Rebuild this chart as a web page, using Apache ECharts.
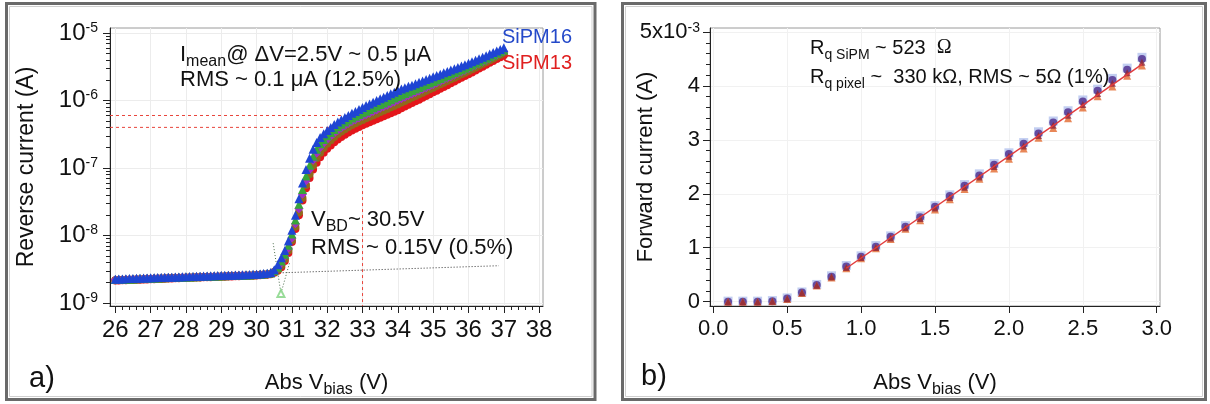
<!DOCTYPE html>
<html><head><meta charset="utf-8">
<script src="https://cdn.jsdelivr.net/npm/echarts@6/dist/echarts.min.js"></script>
<style>html,body{margin:0;padding:0;background:#fff}#c{width:1210px;height:404px}</style>
</head><body><div id="c"></div>
<script>
// ---------- Panel a: reverse I-V (currents in nA) ----------
const voltA = [
26.0,26.1,26.2,26.3,26.4,26.5,26.6,26.7,26.8,26.9,
27.0,27.1,27.2,27.3,27.4,27.5,27.6,27.7,27.8,27.9,
28.0,28.1,28.2,28.3,28.4,28.5,28.6,28.7,28.8,28.9,
29.0,29.1,29.2,29.3,29.4,29.5,29.6,29.7,29.8,29.9,
30.0,30.1,30.2,30.3,30.4,30.5,30.6,30.7,30.8,30.9,
31.0,31.1,31.2,31.3,31.4,31.5,31.6,31.7,31.8,31.9,
32.0,32.1,32.2,32.3,32.4,32.5,32.6,32.7,32.8,32.9,
33.0,33.1,33.2,33.3,33.4,33.5,33.6,33.7,33.8,33.9,
34.0,34.1,34.2,34.3,34.4,34.5,34.6,34.7,34.8,34.9,
35.0,35.1,35.2,35.3,35.4,35.5,35.6,35.7,35.8,35.9,
36.0,36.1,36.2,36.3,36.4,36.5,36.6,36.7,36.8,36.9,
37.0];
const sipm16 = [
2.26,2.27,2.28,2.29,2.30,2.31,2.32,2.33,2.34,2.35,
2.36,2.37,2.38,2.39,2.40,2.41,2.42,2.43,2.44,2.45,
2.46,2.47,2.48,2.49,2.50,2.51,2.52,2.53,2.54,2.55,
2.56,2.57,2.58,2.59,2.60,2.61,2.62,2.63,2.64,2.66,
2.68,2.70,2.73,2.77,2.83,3.1,3.7,4.7,6.0,8.3,
12,20,35,60,95,140,190,238,282,322,
360,400,440,480,520,560,602,645,690,738,
790,840,890,940,1000,1060,1120,1190,1260,1330,
1410,1480,1550,1620,1690,1770,1860,1940,2040,2130,
2240,2340,2450,2570,2690,2820,2950,3090,3240,3390,
3550,3740,3940,4160,4380,4620,4870,5130,5410,5710,
6030];
const sipmGreen = [
2.23,2.24,2.25,2.26,2.27,2.28,2.29,2.30,2.31,2.32,
2.33,2.34,2.35,2.36,2.37,2.38,2.39,2.40,2.41,2.42,
2.43,2.44,2.45,2.46,2.47,2.48,2.49,2.50,2.51,2.52,
2.53,2.54,2.55,2.56,2.57,2.58,2.59,2.60,2.61,2.63,
2.65,2.67,2.70,2.73,2.78,3.0,3.4,4.2,5.3,7.2,
10.5,17,29,48,76,110,150,190,228,264,
300,336,372,408,444,480,514,549,584,620,
658,696,736,778,823,870,920,973,1029,1088,
1151,1211,1273,1339,1408,1481,1557,1638,1722,1814,
1911,2010,2115,2225,2341,2463,2591,2725,2867,3016,
3175,3360,3557,3764,3984,4217,4463,4724,5000,5292,
5600];
const sipmPurple = [
2.21,2.22,2.23,2.24,2.25,2.26,2.27,2.28,2.29,2.30,
2.31,2.32,2.33,2.34,2.35,2.36,2.37,2.38,2.39,2.40,
2.41,2.42,2.43,2.44,2.45,2.46,2.47,2.48,2.49,2.50,
2.51,2.52,2.53,2.54,2.55,2.56,2.57,2.58,2.59,2.61,
2.63,2.65,2.67,2.70,2.75,2.95,3.25,3.9,4.9,6.5,
9.2,15,25,41,64,94,130,166,200,232,
264,296,328,360,392,424,456,488,520,551,
583,616,650,686,725,765,808,853,901,952,
1007,1062,1121,1182,1247,1316,1388,1465,1545,1630,
1719,1814,1915,2022,2134,2252,2377,2509,2648,2795,
2949,3128,3319,3521,3735,3962,4203,4458,4729,5017,
5321];
const sipmOlive = [
2.18,2.19,2.20,2.21,2.22,2.23,2.24,2.25,2.26,2.27,
2.28,2.29,2.30,2.31,2.32,2.33,2.34,2.35,2.36,2.37,
2.38,2.39,2.40,2.41,2.42,2.43,2.44,2.45,2.46,2.47,
2.48,2.49,2.50,2.51,2.52,2.53,2.54,2.55,2.56,2.58,
2.60,2.62,2.64,2.67,2.72,2.9,3.1,3.6,4.5,6.0,
8.5,13.5,22,36,56,81,110,140,168,198,
228,258,288,318,347,376,405,433,461,489,
516,544,574,606,639,674,712,751,792,836,
881,932,986,1043,1104,1168,1235,1307,1383,1463,
1549,1640,1736,1838,1945,2059,2180,2308,2443,2586,
2737,2910,3095,3291,3499,3720,3956,4206,4473,4756,
5058];
const sipm13 = [
2.15,2.16,2.17,2.18,2.19,2.20,2.21,2.22,2.23,2.24,
2.25,2.26,2.27,2.28,2.29,2.30,2.31,2.32,2.33,2.34,
2.35,2.36,2.37,2.38,2.39,2.40,2.41,2.42,2.43,2.44,
2.45,2.46,2.47,2.48,2.49,2.50,2.51,2.52,2.53,2.54,
2.56,2.58,2.60,2.63,2.68,2.8,3.0,3.4,4.2,5.5,
8.0,12.5,20,33,50,71,95,120,145,169,
193,216,240,264,288,312,335,359,383,406,
430,453,477,502,528,556,586,617,649,684,
720,765,812,862,916,973,1030,1100,1170,1240,
1320,1400,1490,1590,1690,1800,1910,2040,2170,2300,
2450,2610,2790,2970,3170,3390,3610,3860,4120,4390,
4700];
const xTicksA = [26,27,28,29,30,31,32,33,34,35,36,37,38];
const xMinorA = [26.2,26.4,26.6,26.8,27.2,27.4,27.6,27.8,28.2,28.4,28.6,28.8,29.2,29.4,29.6,29.8,
30.2,30.4,30.6,30.8,31.2,31.4,31.6,31.8,32.2,32.4,32.6,32.8,33.2,33.4,33.6,33.8,
34.2,34.4,34.6,34.8,35.2,35.4,35.6,35.8,36.2,36.4,36.6,36.8,37.2,37.4,37.6,37.8];
const yTicksA = [1e-9,1e-8,1e-7,1e-6,1e-5];
const yMinorA = [2e-9,3e-9,4e-9,5e-9,6e-9,7e-9,8e-9,9e-9,2e-8,3e-8,4e-8,5e-8,6e-8,7e-8,8e-8,9e-8,
2e-7,3e-7,4e-7,5e-7,6e-7,7e-7,8e-7,9e-7,2e-6,3e-6,4e-6,5e-6,6e-6,7e-6,8e-6,9e-6];
const xRangeA = [25.85, 38.11];
const yRangeA = [9.04e-10, 1.186e-5];
const guideLevelsA = [6e-7, 4e-7];   // mean +/- RMS markers
const guideVoltA = 33;
const guideTopA = 8e-7;
const plateauFitA = [[30.74, 2.81e-9], [36.86, 3.57e-9]];
const vbdFitA = [[30.47, 7.7e-9], [30.69, 1.39e-9], [30.93, 3.87e-9]];
const vbdPointA = [[30.69, 1.39e-9]];

// ---------- Panel b: forward I-V (currents in mA) ----------
const voltB = [0.1,0.2,0.3,0.4,0.5,0.6,0.7,0.8,0.9,1.0,1.1,1.2,1.3,1.4,1.5,1.6,1.7,1.8,1.9,2.0,2.1,2.2,2.3,2.4,2.5,2.6,2.7,2.8,2.9];
const fwdLight  = [0.01,0.01,0.01,0.02,0.07,0.18,0.32,0.48,0.67,0.85,1.04,1.22,1.41,1.59,1.78,1.98,2.17,2.37,2.56,2.76,2.95,3.15,3.35,3.54,3.74,3.94,4.14,4.33,4.53];
const fwdPurple = [0.00,0.00,0.00,0.01,0.06,0.17,0.31,0.46,0.65,0.835,1.02,1.205,1.39,1.565,1.76,1.96,2.15,2.34,2.54,2.74,2.93,3.12,3.32,3.51,3.71,3.91,4.11,4.30,4.50];
const fwdOrange = [0.00,0.00,0.00,0.01,0.05,0.16,0.30,0.45,0.62,0.805,0.99,1.16,1.35,1.51,1.71,1.90,2.09,2.28,2.47,2.65,2.84,3.04,3.22,3.40,3.60,3.81,3.99,4.19,4.38];
const fwdMaroon = [0.00,0.00,0.00,0.01,0.055,0.165,0.305,0.46,0.635,0.82,1.005,1.18,1.37,1.54,1.735,1.93,2.12,2.31,2.505,2.695,2.885,3.08,3.27,3.455,3.655,3.86,4.05,4.245,4.44];
const fitVoltB = [0.9, 2.9];
const fitCurrB = [0.62, 4.40];
const xTicksB = [0, 0.5, 1.0, 1.5, 2.0, 2.5, 3.0];
const yTicksB = [0, 1, 2, 3, 4, 5];
const yMinorB = [0.2,0.4,0.6,0.8,1.2,1.4,1.6,1.8,2.2,2.4,2.6,2.8,3.2,3.4,3.6,3.8,4.2,4.4,4.6,4.8];
const xRangeB = [-0.022, 3.022];
const yRangeB = [-0.08, 5.074];

// ---------- build ----------
const FONT = '"Liberation Sans", Arial, sans-serif';
const INK = '#111';
const pairs = (xs, ys, k) => xs.map((x, i) => [x, ys[i] * k]);
function supRich(fs) {
  return {
    b: {fontSize: fs, fontFamily: FONT, color: INK, lineHeight: fs, verticalAlign: 'bottom'},
    s: {fontSize: 14, fontFamily: FONT, color: INK, lineHeight: 14, verticalAlign: 'top', padding: [0, 0, 15, 0]}
  };
}
const nameRich = {sub: {fontSize: 16, fontFamily: FONT, color: INK, lineHeight: 16, verticalAlign: 'bottom', padding: [14, 0, 0, 0]}};

function mainX(grid, range, ticks, fmt, splitN, split, fs) {
  return {
    type: 'value', gridIndex: grid, min: range[0], max: range[1], position: 'bottom', splitNumber: splitN,
    axisLine: {show: true, onZero: false, lineStyle: {color: '#222', width: 1}},
    axisTick: {show: true, customValues: ticks, length: 7, lineStyle: {color: '#222'}},
    axisLabel: {customValues: ticks, fontSize: fs, fontFamily: FONT, color: INK, margin: 12, formatter: fmt},
    splitLine: {show: true, lineStyle: {color: split}},
    name: 'Abs V{sub|bias} (V)', nameLocation: 'middle', nameGap: 62, nameMoveOverlap: false,
    nameTextStyle: {fontSize: 22, fontFamily: FONT, color: INK, lineHeight: 30, rich: nameRich}
  };
}
function minorAxis(kind, grid, type, range, ticks, len) {
  return {
    type: type, gridIndex: grid, min: range[0], max: range[1], position: kind === 'x' ? 'bottom' : 'left',
    axisLine: {show: false, onZero: false}, axisLabel: {show: false}, splitLine: {show: false},
    axisTick: {show: true, customValues: ticks, length: len, lineStyle: {color: '#222'}}
  };
}

const option = {
  animation: false,
  backgroundColor: '#fff',
  grid: [
    {left: 110, top: 28, width: 433, height: 278, show: true, borderColor: '#9a9a9a', borderWidth: 1, containLabel: false},
    {left: 710, top: 28, width: 450, height: 278, show: true, borderColor: '#9a9a9a', borderWidth: 1, containLabel: false}
  ],
  xAxis: [
    mainX(0, xRangeA, xTicksA, v => String(v), 12, '#ececec', 24),
    minorAxis('x', 0, 'value', xRangeA, xMinorA, 4),
    mainX(1, xRangeB, xTicksB, v => v.toFixed(1), 6, '#f1f1f1', 22)
  ],
  yAxis: [
    {
      type: 'log', gridIndex: 0, min: yRangeA[0], max: yRangeA[1], position: 'left', logBase: 10,
      axisLine: {show: true, onZero: false, lineStyle: {color: '#222'}},
      axisTick: {show: true, customValues: yTicksA, length: 7, lineStyle: {color: '#222'}},
      axisLabel: {customValues: yTicksA, margin: 12, rich: supRich(24),
        formatter: v => '{b|10}{s|' + Math.round(Math.log10(v)) + '}'},
      splitLine: {show: true, lineStyle: {color: '#ececec'}},
      name: 'Reverse current (A)', nameLocation: 'middle', nameGap: 72, nameMoveOverlap: false,
      nameTextStyle: {fontSize: 23, fontFamily: FONT, color: INK}
    },
    minorAxis('y', 0, 'log', yRangeA, yMinorA, 4),
    {
      type: 'value', gridIndex: 1, min: yRangeB[0], max: yRangeB[1], position: 'left', splitNumber: 5,
      axisLine: {show: true, onZero: false, lineStyle: {color: '#222'}},
      axisTick: {show: true, customValues: yTicksB, length: 7, lineStyle: {color: '#222'}},
      axisLabel: {customValues: yTicksB, margin: 10, rich: supRich(22),
        formatter: v => v === 5 ? '{b|5x10}{s|-3}' : '{b|' + v + '}'},
      splitLine: {show: true, lineStyle: {color: '#f1f1f1'}},
      name: 'Forward current (A)', nameLocation: 'middle', nameGap: 53, nameMoveOverlap: false,
      nameTextStyle: {fontSize: 22, fontFamily: FONT, color: INK}
    },
    minorAxis('y', 1, 'value', yRangeB, yMinorB, 4)
  ],
  series: [
    // guides panel a
    {type: 'line', xAxisIndex: 0, yAxisIndex: 0, silent: true, symbol: 'none', z: 1,
     data: [[xRangeA[0], guideLevelsA[0]], [guideVoltA, guideLevelsA[0]]],
     lineStyle: {color: '#e8453c', width: 1, type: [3, 3]}},
    {type: 'line', xAxisIndex: 0, yAxisIndex: 0, silent: true, symbol: 'none', z: 1,
     data: [[xRangeA[0], guideLevelsA[1]], [guideVoltA, guideLevelsA[1]]],
     lineStyle: {color: '#e8453c', width: 1, type: [3, 3]}},
    {type: 'line', xAxisIndex: 0, yAxisIndex: 0, silent: true, symbol: 'none', z: 1,
     data: [[guideVoltA, guideTopA], [guideVoltA, yRangeA[0]]],
     lineStyle: {color: '#e8453c', width: 1, type: [3, 3]}},
    {type: 'line', xAxisIndex: 0, yAxisIndex: 0, silent: true, symbol: 'none', z: 1,
     data: plateauFitA, lineStyle: {color: '#333', width: 1, type: [1, 2]}},
    {type: 'line', xAxisIndex: 0, yAxisIndex: 0, silent: true, symbol: 'none', z: 1,
     data: vbdFitA, lineStyle: {color: '#4d6e4d', width: 1, type: [1, 2]}},
    {type: 'scatter', xAxisIndex: 0, yAxisIndex: 0, data: vbdPointA, symbol: 'emptyTriangle', symbolSize: 7,
     itemStyle: {color: '#7fd37f', borderColor: '#7fd37f'}},
    // data panel a
    {type: 'scatter', name: 'SiPM13', xAxisIndex: 0, yAxisIndex: 0, data: pairs(voltA, sipm13, 1e-9),
     symbol: 'circle', symbolSize: 8, itemStyle: {color: '#e4161b', opacity: 1}},
    {type: 'scatter', name: 'olive', xAxisIndex: 0, yAxisIndex: 0, data: pairs(voltA, sipmOlive, 1e-9),
     symbol: 'circle', symbolSize: 8, itemStyle: {color: '#8f6a1c', opacity: 1}},
    {type: 'scatter', name: 'purple', xAxisIndex: 0, yAxisIndex: 0, data: pairs(voltA, sipmPurple, 1e-9),
     symbol: 'diamond', symbolSize: 9, itemStyle: {color: '#a12fc4', opacity: 1}},
    {type: 'scatter', name: 'green', xAxisIndex: 0, yAxisIndex: 0, data: pairs(voltA, sipmGreen, 1e-9),
     symbol: 'triangle', symbolSize: 9, itemStyle: {color: '#38a53a', opacity: 1}},
    {type: 'scatter', name: 'SiPM16', xAxisIndex: 0, yAxisIndex: 0, data: pairs(voltA, sipm16, 1e-9),
     symbol: 'triangle', symbolSize: 9, itemStyle: {color: '#1f45d3', opacity: 1}},
    // data panel b
    {type: 'scatter', xAxisIndex: 2, yAxisIndex: 2, data: pairs(voltB, fwdLight, 1),
     symbol: 'rect', symbolSize: 9, itemStyle: {color: '#b3c2ee'}},
    {type: 'scatter', xAxisIndex: 2, yAxisIndex: 2, data: pairs(voltB, fwdPurple, 1),
     symbol: 'circle', symbolSize: 8, itemStyle: {color: '#4b2b8c'}},
    {type: 'scatter', xAxisIndex: 2, yAxisIndex: 2, data: pairs(voltB, fwdOrange, 1),
     symbol: 'triangle', symbolSize: 8, itemStyle: {color: '#e2692e'}},
    {type: 'scatter', xAxisIndex: 2, yAxisIndex: 2, data: pairs(voltB, fwdMaroon, 1),
     symbol: 'triangle', symbolSize: 7, itemStyle: {color: '#8e2436'}},
    {type: 'line', xAxisIndex: 2, yAxisIndex: 2, silent: true, symbol: 'none', z: 5,
     data: pairs(fitVoltB, fitCurrB, 1), lineStyle: {color: '#e23c3c', width: 1.5}}
  ],
  graphic: [
    {type: 'rect', z: 100, silent: true, shape: {x: 6.5, y: 3.5, width: 588.5, height: 396}, style: {fill: 'none', stroke: '#6a6a6a', lineWidth: 3}},
    {type: 'rect', z: 100, silent: true, shape: {x: 9.5, y: 6.5, width: 582.5, height: 390}, style: {fill: 'none', stroke: '#cfcfcf', lineWidth: 1}},
    {type: 'rect', z: 100, silent: true, shape: {x: 622.5, y: 3.5, width: 583, height: 396}, style: {fill: 'none', stroke: '#6a6a6a', lineWidth: 3}},
    {type: 'rect', z: 100, silent: true, shape: {x: 625.5, y: 6.5, width: 577, height: 390}, style: {fill: 'none', stroke: '#cfcfcf', lineWidth: 1}},
    {type: 'text', left: 180, top: 40, z: 100, style: {
      text: '{m|I}{sub|mean}{m|@ \u0394V=2.5V ~ 0.5 \u03bcA}',
      rich: {m: {fontSize: 22, fontFamily: FONT, fill: INK, lineHeight: 26, verticalAlign: 'top'},
             sub: {fontSize: 16, fontFamily: FONT, fill: INK, lineHeight: 16, verticalAlign: 'bottom', padding: [14, 0, 0, 0]}}}},
    {type: 'text', left: 180, top: 69, z: 100, style: {text: 'RMS ~ 0.1 \u03bcA (12.5%)', fontSize: 22, fontFamily: FONT, fill: INK}},
    {type: 'text', left: 311, top: 205, z: 100, style: {
      text: '{m|V}{sub|BD}{m|~ 30.5V}',
      rich: {m: {fontSize: 22, fontFamily: FONT, fill: INK, lineHeight: 26, verticalAlign: 'top'},
             sub: {fontSize: 16, fontFamily: FONT, fill: INK, lineHeight: 16, verticalAlign: 'bottom', padding: [14, 0, 0, 0]}}}},
    {type: 'text', left: 311, top: 237, z: 100, style: {text: 'RMS ~ 0.15V (0.5%)', fontSize: 22, fontFamily: FONT, fill: INK}},
    {type: 'text', left: 502, top: 27, z: 100, style: {text: 'SiPM16', fontSize: 20, fontFamily: FONT, fill: '#2449c9'}},
    {type: 'text', left: 502, top: 53, z: 100, style: {text: 'SiPM13', fontSize: 20, fontFamily: FONT, fill: '#e02020'}},
    {type: 'text', left: 29, top: 364, z: 100, style: {text: 'a)', fontSize: 29, fontFamily: FONT, fill: INK}},
    {type: 'text', left: 641, top: 362, z: 100, style: {text: 'b)', fontSize: 29, fontFamily: FONT, fill: INK}},
    {type: 'text', left: 810, top: 34, z: 100, style: {
      text: '{m|R}{sub|q SiPM}{m| ~ 523  }{o|\u03a9}',
      rich: {m: {fontSize: 20, fontFamily: FONT, fill: INK, lineHeight: 24, verticalAlign: 'top'},
             o: {fontSize: 20, fontFamily: '"Liberation Serif", serif', fill: INK, lineHeight: 24, verticalAlign: 'top'},
             sub: {fontSize: 14, fontFamily: FONT, fill: INK, lineHeight: 14, verticalAlign: 'bottom', padding: [14, 0, 0, 0]}}}},
    {type: 'text', left: 810, top: 63, z: 100, style: {
      text: '{m|R}{sub|q pixel}{m| ~  330 k\u03a9, RMS ~ 5\u03a9 (1%)}',
      rich: {m: {fontSize: 20, fontFamily: FONT, fill: INK, lineHeight: 24, verticalAlign: 'top'},
             sub: {fontSize: 14, fontFamily: FONT, fill: INK, lineHeight: 14, verticalAlign: 'bottom', padding: [14, 0, 0, 0]}}}}
  ]
};
const chart = echarts.init(document.getElementById('c'), null, {renderer: 'canvas'});
chart.setOption(option);
</script>
</body></html>
